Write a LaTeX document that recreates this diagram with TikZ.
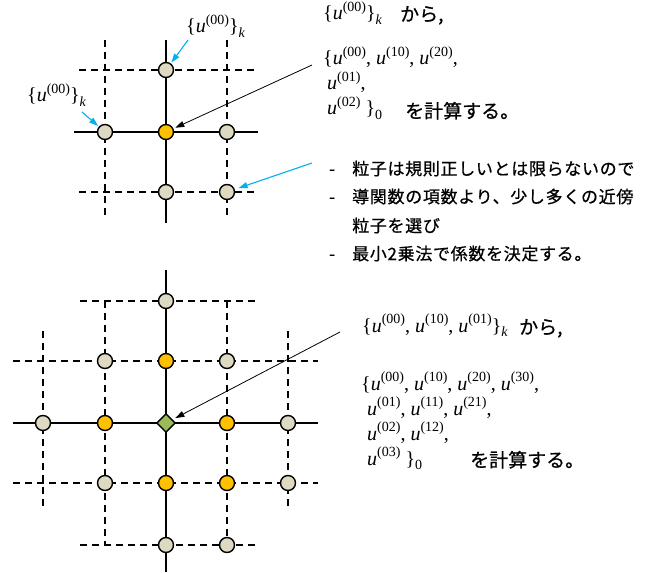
\documentclass[tikz,border=0pt]{standalone}
\usepackage{fontspec}
\setmainfont{Liberation Serif}
\newfontfamily\jp[FakeBold=0.6]{Noto Sans CJK JP}
\newfontfamily\jpb[LetterSpace=4,FakeBold=0.6]{Noto Sans CJK JP}
\usetikzlibrary{shapes.geometric,arrows.meta}
\definecolor{pgray}{HTML}{DDD9C3}
\definecolor{porange}{HTML}{FFC000}
\definecolor{pgreen}{HTML}{9BBB59}
\definecolor{pcyan}{HTML}{00B0F0}
\newcommand\uu[1]{\textit{u}\raisebox{0.42em}{\fontsize{14}{14}\selectfont(#1)}}
\newcommand\subk{\raisebox{-0.22em}{\fontsize{14}{14}\selectfont\textit{k}}}
\newcommand\subz{\raisebox{-0.22em}{\fontsize{14}{14}\selectfont 0}}
\tikzset{
  pt/.style={circle, draw=black, line width=1.4pt, minimum size=15pt, inner sep=0pt},
  gpt/.style={pt, fill=pgray},
  opt/.style={pt, fill=porange},
  dpt/.style={diamond, draw=black, line width=1.4pt, minimum size=19pt, inner sep=0pt, fill=pgreen},
  solidline/.style={line width=1.6pt},
  dashline/.style={line width=1.6pt, dash pattern=on 7pt off 5pt},
  mtext/.style={anchor=base west, inner sep=0pt, font=\fontsize{20}{24}\selectfont},
  jtext/.style={anchor=base west, inner sep=0pt, font=\jp\fontsize{19}{24}\selectfont},
  btext/.style={anchor=base west, inner sep=0pt, font=\jpb\fontsize{17}{20}\selectfont},
  blackarr/.style={line width=0.8pt, -{Triangle[length=9pt,width=6pt]}},
  cyanarr/.style={draw=pcyan, line width=1.1pt, -{Triangle[length=9pt,width=6pt]}},
}
\begin{document}
\begin{tikzpicture}[x=1pt,y=-1pt]
\useasboundingbox[fill=white] (0,0) rectangle (660,572);
% ---------- top grid ----------
\draw[solidline] (166,40) -- (166,223);
\draw[solidline] (74,132) -- (258,132);
\draw[dashline] (105,40) -- (105,218);
\draw[dashline] (227,40) -- (227,218);
\draw[dashline] (79,70) -- (258,70);
\draw[dashline] (79,192) -- (258,192);
\node[gpt] (t1) at (166,70) {};
\node[gpt] (t2) at (105,132) {};
\node[opt] (t3) at (166,132) {};
\node[gpt] (t4) at (227,132) {};
\node[gpt] (t5) at (166,192) {};
\node[gpt] (t6) at (227,192) {};
% labels near nodes
\node[mtext] (lt1) at (186,33) {\{\uu{00}\}\subk};
\node[mtext] (lt2) at (27,102) {\{\uu{00}\}\subk};
\coordinate (ct1) at (188,40);
\coordinate (ct2) at (82,112);
\draw[cyanarr, shorten >=1pt] (ct1) -- (t1);
\draw[cyanarr, shorten >=1pt] (ct2) -- (t2);
% top right text
\node[mtext] (r1) at (323,20) {\{\uu{00}\}\subk};
\node[jtext] (r1j) at (400,21) {から,};
\node[mtext] (r2) at (323,65) {\{\uu{00}, \uu{10}, \uu{20},};
\node[mtext] (r3) at (327,90) {\uu{01},};
\node[mtext] (r4) at (327,115) {\uu{02} \}\subz};
\node[jtext] (r4j) at (405,118) {を計算する。};
\coordinate (ca1) at (312,65);
\draw[blackarr, shorten >=2pt] (ca1) -- (t3);
% bullets
\coordinate (ca2) at (312,163);
\draw[cyanarr, shorten >=4pt] (ca2) -- (t6);
\node[btext] (d1) at (329,175) {-};
\node[btext] (b1) at (352,175) {粒子は規則正しいとは限らないので};
\node[btext] (d2) at (329,203) {-};
\node[btext] (b2) at (352,203) {導関数の項数より、少し多くの近傍};
\node[btext] (b3) at (352,232) {粒子を選び};
\node[btext] (d4) at (329,260) {-};
\node[btext] (b4) at (352,260) {最小2乗法で係数を決定する。};
% ---------- bottom grid ----------
\draw[solidline] (166,270) -- (166,572);
\draw[solidline] (13,423) -- (318,423);
\draw[dashline] (80,301) -- (258,301);
\draw[dashline] (13,361) -- (318,361);
\draw[dashline] (13,483) -- (318,483);
\draw[dashline] (80,545) -- (258,545);
\draw[dashline] (43,331) -- (43,508);
\draw[dashline] (105,301) -- (105,545);
\draw[dashline] (227,301) -- (227,545);
\draw[dashline] (288,331) -- (288,508);
\node[gpt] (p1) at (166,301) {};
\node[gpt] (p2) at (105,361) {};
\node[opt] (p3) at (166,361) {};
\node[gpt] (p4) at (227,361) {};
\node[gpt] (p5) at (43,423) {};
\node[opt] (p6) at (105,423) {};
\node[dpt] (p7) at (166,423) {};
\node[opt] (p8) at (227,423) {};
\node[gpt] (p9) at (288,423) {};
\node[gpt] (p10) at (105,483) {};
\node[opt] (p11) at (166,483) {};
\node[opt] (p12) at (227,483) {};
\node[gpt] (p13) at (288,483) {};
\node[gpt] (p14) at (166,545) {};
\node[gpt] (p15) at (227,545) {};
% bottom right text
\node[mtext] (s1) at (362,332) {\{\uu{00}, \uu{10}, \uu{01}\}\subk};
\node[jtext] (s1j) at (519,334) {から,};
\node[mtext] (s2) at (361,390) {\{\uu{00}, \uu{10}, \uu{20}, \uu{30},};
\node[mtext] (s3) at (367,415) {\uu{01}, \uu{11}, \uu{21},};
\node[mtext] (s4) at (367,440) {\uu{02}, \uu{12},};
\node[mtext] (s5) at (367,465) {\uu{03} \}\subz};
\node[jtext] (s5j) at (470,467) {を計算する。};
\coordinate (ca3) at (340,332);
\draw[blackarr, shorten >=3pt] (ca3) -- (p7);
\end{tikzpicture}
\end{document}
